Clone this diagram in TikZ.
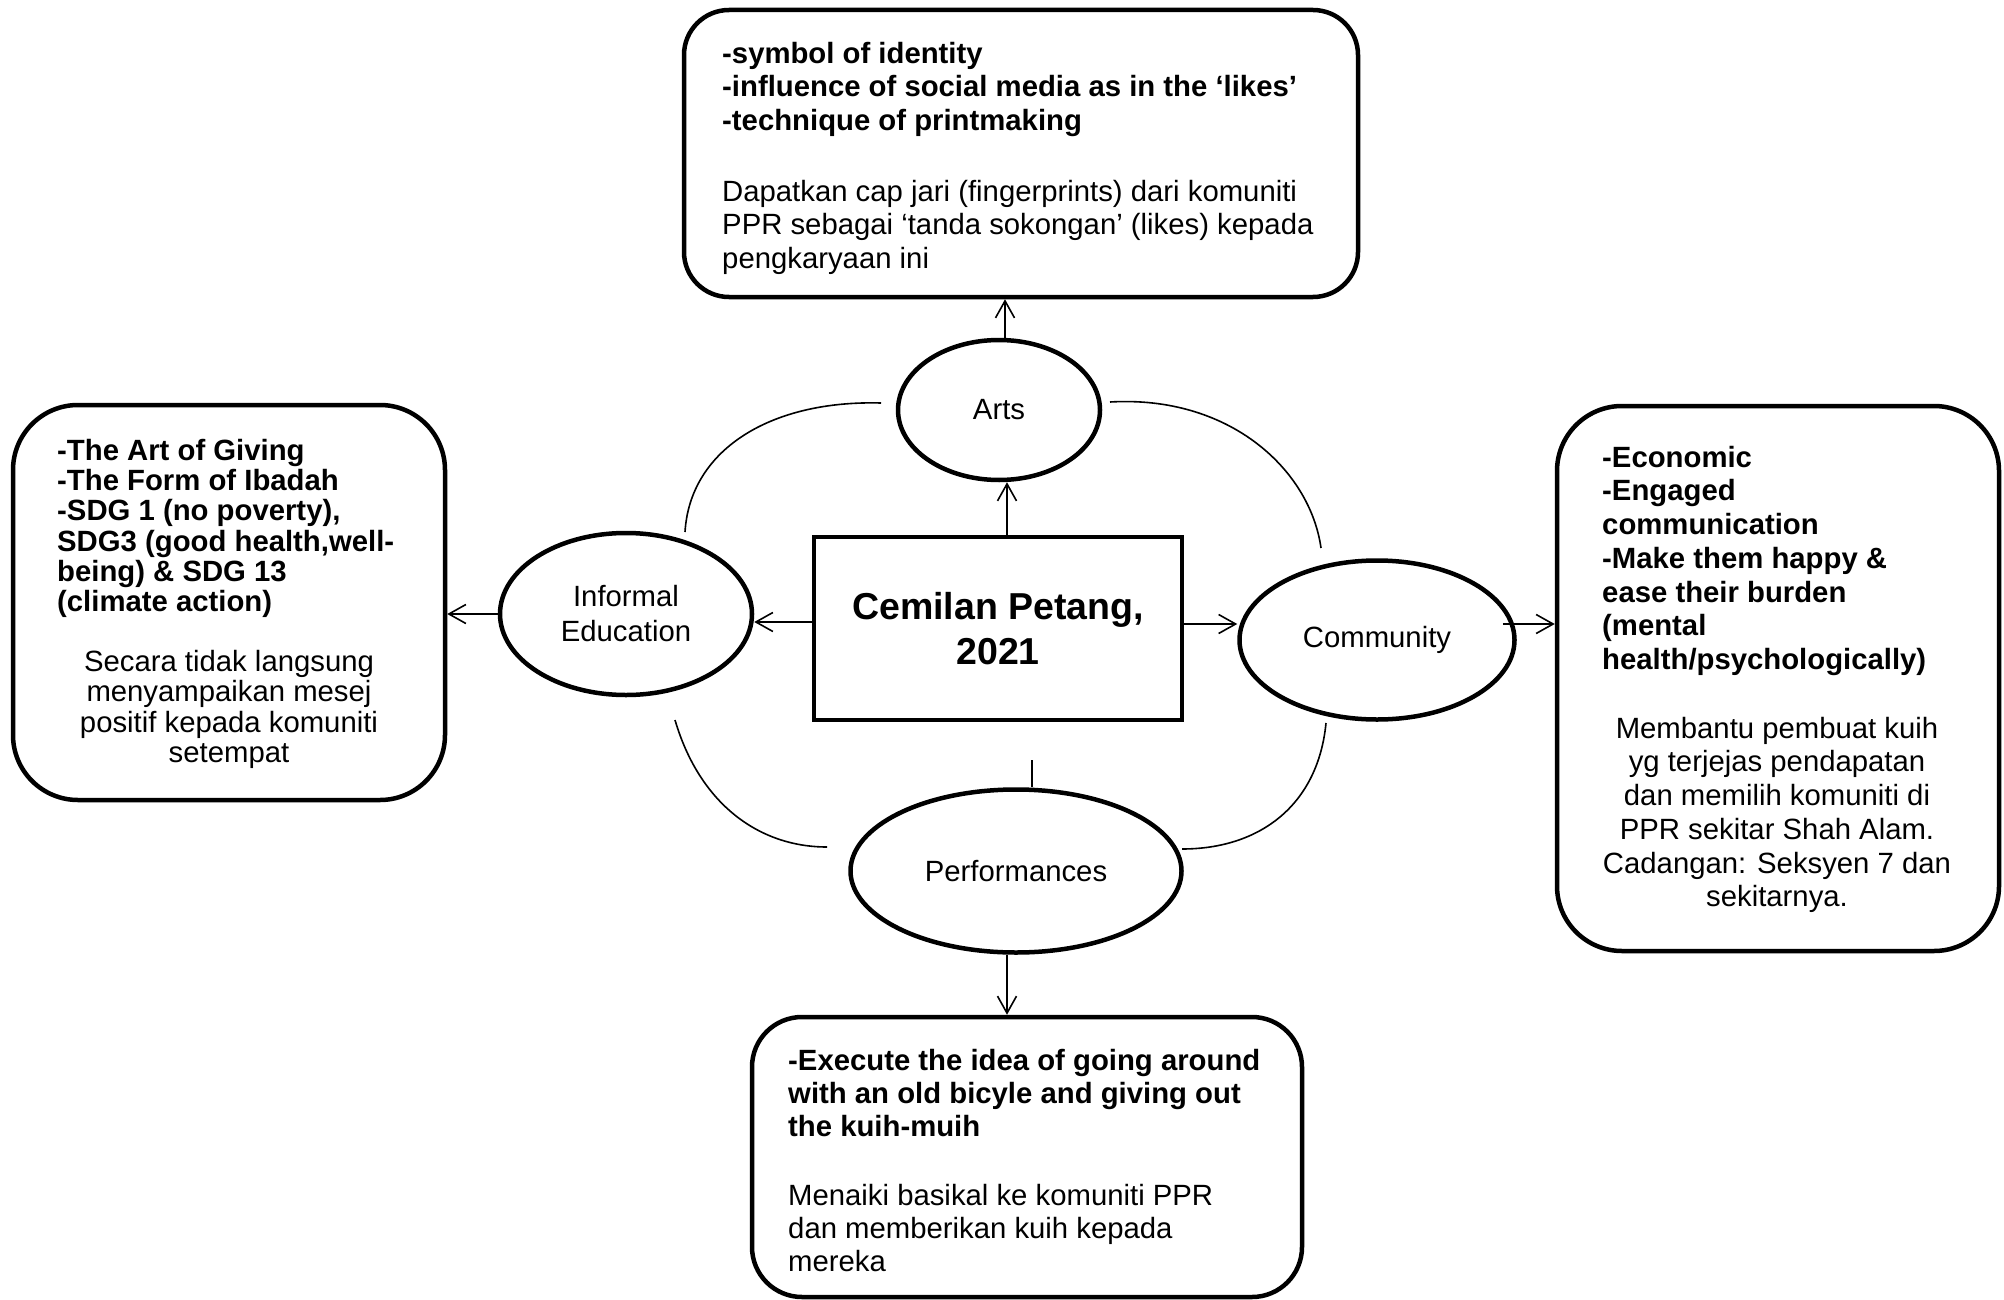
\documentclass[tikz,border=0pt]{standalone}
\usepackage{fontspec}
\setmainfont{Liberation Sans}
\usetikzlibrary{shapes.geometric,arrows.meta}
\begin{document}
\begin{tikzpicture}[x=1pt,y=-1pt,
  thickline/.style={line width=4.5pt},
  thinline/.style={line width=1.6pt},
  rbox/.style={draw,line width=4.5pt,rounded corners=#1,inner sep=0pt},
  ell/.style={draw,ellipse,line width=4.5pt,inner sep=0pt,align=center,font=\fontsize{29.3}{35}\selectfont},
  arr/.style={line width=1.6pt,-{Straight Barb[length=17pt,width=19pt]}},
  boldtxt/.style={anchor=north west,inner sep=0pt,align=left,font=\fontsize{29.3}{#1}\selectfont\bfseries},
  plaintxt/.style={anchor=north west,inner sep=0pt,align=left,font=\fontsize{29.3}{#1}\selectfont},
  ctrtxt/.style={anchor=north,inner sep=0pt,align=center,font=\fontsize{29.3}{#1}\selectfont}
]
\fill[white] (0,0) rectangle (2004,1300);
\useasboundingbox (0,0) rectangle (2004,1300);

% boxes
\node[rbox=45pt, minimum width=674pt, minimum height=287pt] (topbox) at (1021,153.5) {};
\node[rbox=65pt, minimum width=432pt, minimum height=395pt] (leftbox) at (229,602.5) {};
\node[rbox=65pt, minimum width=442pt, minimum height=545pt] (rightbox) at (1778,678.5) {};
\node[rbox=50pt, minimum width=550pt, minimum height=280pt] (botbox) at (1027,1157) {};

% centre box
\node[draw,line width=4.5pt,minimum width=368pt,minimum height=183pt,inner sep=0pt,align=center,
      font=\fontsize{37.5}{45}\selectfont\bfseries] (cbox) at (998,628.5) {Cemilan Petang,\\2021};

% ellipses
\node[ell,minimum width=202pt,minimum height=140pt] (arts) at (999,410) {Arts};
\node[ell,minimum width=252pt,minimum height=162pt] (informal) at (626,614) {Informal\\Education};
\node[ell,minimum width=275pt,minimum height=159pt] (community) at (1377,640) {Community};
\node[ell,minimum width=331pt,minimum height=163pt] (perf) at (1016,871) {Performances};

% texts
\node[boldtxt=33.7pt] (toptxtb) at (722,41) {\rule{0pt}{22pt}-symbol of identity\\-influence of social media as in the ‘likes’\\-technique of printmaking};
\node[plaintxt=33.7pt] (toptxtp) at (722,179) {\rule{0pt}{22pt}Dapatkan cap jari (fingerprints) dari komuniti\\PPR sebagai ‘tanda sokongan’ (likes) kepada\\pengkaryaan ini};

\node[boldtxt=30.3pt] (lefttxtb) at (57,438) {\rule{0pt}{22pt}-The Art of Giving\\-The Form of Ibadah\\-SDG 1 (no poverty),\\SDG3 (good health,well-\\being) \& SDG 13\\(climate action)};
\node[ctrtxt=30.5pt] (lefttxtp) at (229,649) {\rule{0pt}{22pt}Secara tidak langsung\\menyampaikan mesej\\positif kepada komuniti\\setempat};

\node[boldtxt=33.7pt] (righttxtb) at (1602,445) {\rule{0pt}{22pt}-Economic\\-Engaged\\communication\\-Make them happy \&\\ease their burden\\(mental\\health/psychologically)};
\node[ctrtxt=33.7pt] (righttxtp) at (1777,716) {\rule{0pt}{22pt}Membantu pembuat kuih\\yg terjejas pendapatan\\dan memilih komuniti di\\PPR sekitar Shah Alam.\\Cadangan: Seksyen 7 dan\\sekitarnya.};

\node[boldtxt=33.3pt] (bottxtb) at (788,1048) {\rule{0pt}{22pt}-Execute the idea of going around\\with an old bicyle and giving out\\the kuih-muih};
\node[plaintxt=33.3pt] (bottxtp) at (788,1183) {\rule{0pt}{22pt}Menaiki basikal ke komuniti PPR\\dan memberikan kuih kepada\\mereka};

% arrows
\coordinate (a1) at ([xshift=6pt]arts.north);
\draw[arr] (a1) -- (a1 |- topbox.south);
\coordinate (a2) at ([xshift=9pt]cbox.north);
\draw[arr] (a2) -- (a2 |- arts.south);
\coordinate (a3) at ([yshift=6.5pt]cbox.west);
\draw[arr] (a3) -- (a3 -| informal.east);
\draw[arr] (informal.west) -- (informal.west -| leftbox.east);
\coordinate (a4) at ([yshift=4.5pt]cbox.east);
\draw[arr] (a4) -- (a4 -| community.west);
\coordinate (a5) at ([yshift=16pt,xshift=-14pt]community.east);
\draw[arr] (a5) -- (a5 -| rightbox.west);
\coordinate (a6) at ([xshift=-9pt]perf.south);
\draw[arr] (a6) -- (a6 |- botbox.north);
\coordinate (pl) at (1032,760);
\draw[thinline] (pl) -- (pl |- perf.north);

% arcs
\coordinate (tl1) at (685,532); \coordinate (tl2) at (881,403);
\coordinate (tr1) at (1110,402); \coordinate (tr2) at (1321,548);
\coordinate (bl1) at (675,720); \coordinate (bl2) at (827,847);
\coordinate (br1) at (1326,723); \coordinate (br2) at (1182,849);
\draw[thinline] (tl1) .. controls (690,450) and (770,400) .. (tl2);
\draw[thinline] (tr1) .. controls (1230,395) and (1310,470) .. (tr2);
\draw[thinline] (bl1) .. controls (700,805) and (760,847) .. (bl2);
\draw[thinline] (br1) .. controls (1318,805) and (1260,849) .. (br2);
\end{tikzpicture}
\end{document}
